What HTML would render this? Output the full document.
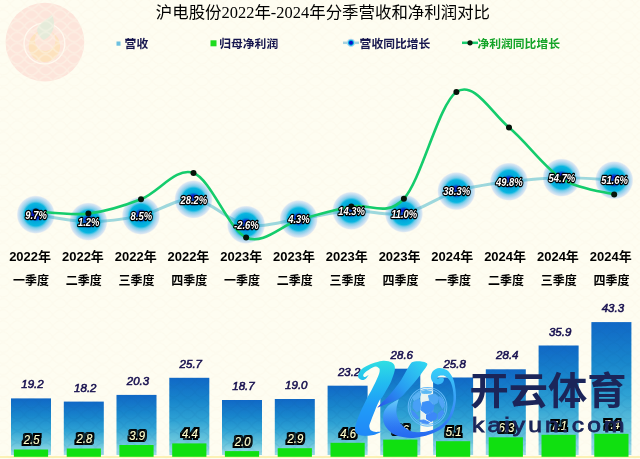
<!DOCTYPE html>
<html lang="zh"><head><meta charset="utf-8"><title>沪电股份2022年-2024年分季营收和净利润对比</title>
<style>
html,body{margin:0;padding:0;background:#fefdf1;}
body{width:640px;height:459px;overflow:hidden;}
svg{display:block}
.t{font-family:"Liberation Serif","Noto Sans CJK SC",serif;font-weight:400;font-size:16.45px;fill:#000}
.lg{font-family:"Liberation Sans","Noto Sans CJK SC",sans-serif;font-weight:700;font-size:11.8px}
.yr{font-family:"Liberation Sans","Noto Sans CJK SC",sans-serif;font-weight:700;font-size:13px;fill:#000;text-anchor:middle}
.q{font-family:"Liberation Sans","Noto Sans CJK SC",sans-serif;font-weight:700;font-size:12px;fill:#000;text-anchor:middle}
.pl{font-family:"Liberation Sans",sans-serif;font-weight:700;font-style:italic;font-size:11.5px;fill:#fff;stroke:#000;stroke-width:2.6px;paint-order:stroke;stroke-linejoin:round;text-anchor:middle}
.bl{font-family:"Liberation Sans",sans-serif;font-style:italic;font-size:11.5px;fill:#17104f;stroke:#17104f;stroke-width:0.55px;text-anchor:middle}
.gl{font-family:"Liberation Sans",sans-serif;font-weight:400;font-style:italic;font-size:12px;fill:#ffffcc;stroke:#ffffcc;stroke-width:0.15px;text-anchor:middle;filter:url(#ol)}
.wm{font-family:"Liberation Sans","Noto Sans CJK SC",sans-serif;font-weight:700;font-size:38px;fill:#1b2559}
.wm2{font-family:"Liberation Sans",sans-serif;font-weight:400;font-size:20.5px;fill:#1b2559;stroke:#1b2559;stroke-width:0.8px;letter-spacing:2.6px}
</style></head><body>
<svg width="640" height="459" viewBox="0 0 640 459">
<defs>
<pattern id="wv" width="14.2" height="11.1" patternUnits="userSpaceOnUse" patternTransform="translate(10.2,-1.8)">
<path d="M0,5.5 Q7.1,-3.9 14.2,5.5 M0,5.5 Q7.1,14.9 14.2,5.5" fill="none" stroke="#fbf7ea" stroke-width="1.4" opacity="0.5"/>
</pattern>
<pattern id="wvb" width="14.2" height="11.1" patternUnits="userSpaceOnUse" patternTransform="translate(10.2,-1.8)">
<path d="M0,5.5 Q7.1,-3.9 14.2,5.5 M0,5.5 Q7.1,14.9 14.2,5.5" fill="none" stroke="#0a5aa0" stroke-width="1.4" opacity="0.09"/>
</pattern>
<radialGradient id="mk">
<stop offset="0" stop-color="#0a0cc0"/>
<stop offset="0.2" stop-color="#0a18c8"/>
<stop offset="0.36" stop-color="#00a6da"/>
<stop offset="0.58" stop-color="#08b6e0"/>
<stop offset="0.69" stop-color="#7ccdea"/>
<stop offset="0.82" stop-color="#b4d9f0"/>
<stop offset="0.93" stop-color="#cfe0f2" stop-opacity="0.8"/>
<stop offset="1" stop-color="#e0e8f6" stop-opacity="0"/>
</radialGradient>
<linearGradient id="bg" x1="0" y1="0" x2="0" y2="1" gradientUnits="objectBoundingBox">
<stop offset="0" stop-color="#1068c6"/>
<stop offset="0.3" stop-color="#1886cc"/>
<stop offset="0.55" stop-color="#2ea2d4"/>
<stop offset="0.8" stop-color="#66c4dc"/>
<stop offset="1" stop-color="#a4deea"/>
</linearGradient>
<linearGradient id="kg1" gradientUnits="userSpaceOnUse" x1="0" y1="360" x2="0" y2="436">
<stop offset="0" stop-color="#30e0e2"/><stop offset="0.3" stop-color="#22bcf0"/><stop offset="0.6" stop-color="#209cf8"/><stop offset="1" stop-color="#2088f8"/>
</linearGradient>
<linearGradient id="kg2" gradientUnits="userSpaceOnUse" x1="424" y1="363" x2="380" y2="407">
<stop offset="0" stop-color="#30d4f0"/><stop offset="0.5" stop-color="#28a0f2"/><stop offset="1" stop-color="#2a58e8"/>
</linearGradient>
<linearGradient id="kg3" gradientUnits="userSpaceOnUse" x1="0" y1="368" x2="0" y2="438">
<stop offset="0" stop-color="#38d0f8"/><stop offset="0.35" stop-color="#38a8f8"/><stop offset="0.6" stop-color="#3c90f8"/><stop offset="1" stop-color="#2468f0"/>
</linearGradient>
<linearGradient id="kg4" gradientUnits="userSpaceOnUse" x1="0" y1="398" x2="0" y2="428">
<stop offset="0" stop-color="#70d4f8" stop-opacity="1"/><stop offset="0.45" stop-color="#48a8f8" stop-opacity="0.8"/><stop offset="1" stop-color="#3080f4" stop-opacity="0"/>
</linearGradient>
<linearGradient id="kg" x1="0" y1="0" x2="1" y2="1">
<stop offset="0" stop-color="#35d0f2"/>
<stop offset="0.5" stop-color="#2a9cf0"/>
<stop offset="1" stop-color="#2a62e6"/>
</linearGradient>
<filter id="ol" x="-20%" y="-30%" width="140%" height="160%" color-interpolation-filters="sRGB"><feMorphology in="SourceAlpha" operator="dilate" radius="1.6" result="d"/><feFlood flood-color="#000"/><feComposite in2="d" operator="in" result="o"/><feMerge><feMergeNode in="o"/><feMergeNode in="SourceGraphic"/></feMerge></filter>
</defs>
<rect width="640" height="459" fill="#fefdf1"/>
<g>
<circle cx="44.9" cy="42.1" r="39.4" fill="#fde5db"/>
<circle cx="44.4" cy="46.3" r="15.7" fill="#fde2be"/>
<circle cx="45.2" cy="40.6" r="10.4" fill="#fde4d8"/>
<circle cx="44.4" cy="43.5" r="20.4" fill="none" stroke="#fffaf0" stroke-width="1.3"/>
<path d="M43.5,40 C38,36 35.5,30 38.5,26 C42,21.5 48,19 51.9,14.8 C54.5,20 55,27 52,32 C50,36 47,38.5 43.5,40 Z" fill="#e5ebda"/>
</g>
<rect width="640" height="459" fill="url(#wv)"/>
<text class="t" x="155.8" y="17.6">沪电股份2022年-2024年分季营收和净利润对比</text>
<rect x="116.5" y="41.5" width="4" height="4.2" fill="#6cc0e0"/><text class="lg" x="124.6" y="47.5" fill="#16164e">营收</text>
<rect x="210.5" y="40.3" width="6" height="6" fill="#1fdc1f"/><text class="lg" x="219.2" y="47.5" fill="#16164e">归母净利润</text>
<line x1="343" y1="42.8" x2="359" y2="42.8" stroke="#a5d3df" stroke-width="2.5"/><circle cx="351" cy="42.8" r="4.5" fill="url(#mk)"/><circle cx="351" cy="42.8" r="2" fill="#0a14c8"/><text class="lg" x="359.6" y="47.5" fill="#16164e">营收同比增长</text>
<line x1="462" y1="42.8" x2="478" y2="42.8" stroke="#18cc6e" stroke-width="2.5"/><circle cx="470" cy="42.8" r="2.6" fill="#0a1a0a"/><text class="lg" x="477.4" y="47.5" fill="#14a428">净利润同比增长</text>
<circle cx="35.8" cy="214.6" r="19.3" fill="url(#mk)"/><circle cx="88.4" cy="221.6" r="19.3" fill="url(#mk)"/><circle cx="141.0" cy="215.6" r="19.3" fill="url(#mk)"/><circle cx="193.5" cy="199.4" r="19.3" fill="url(#mk)"/><circle cx="246.1" cy="224.7" r="19.3" fill="url(#mk)"/><circle cx="298.7" cy="219.1" r="19.3" fill="url(#mk)"/><circle cx="351.3" cy="210.8" r="19.3" fill="url(#mk)"/><circle cx="403.9" cy="213.6" r="19.3" fill="url(#mk)"/><circle cx="456.4" cy="191.1" r="19.3" fill="url(#mk)"/><circle cx="509.0" cy="181.7" r="19.3" fill="url(#mk)"/><circle cx="561.6" cy="177.6" r="19.3" fill="url(#mk)"/><circle cx="614.2" cy="180.2" r="19.3" fill="url(#mk)"/>
<path d="M35.80,214.63 C44.56,215.79 70.85,221.45 88.38,221.61 C105.91,221.78 123.43,219.31 140.96,215.61 C158.49,211.91 176.01,197.90 193.54,199.42 C211.07,200.94 228.59,221.46 246.12,224.74 C263.65,228.01 281.17,221.38 298.70,219.07 C316.23,216.75 333.75,211.76 351.28,210.85 C368.81,209.93 386.33,216.85 403.86,213.56 C421.39,210.27 438.91,196.43 456.44,191.12 C473.97,185.80 491.49,183.91 509.02,181.66 C526.55,179.42 544.07,177.88 561.60,177.64 C579.13,177.39 605.42,179.76 614.18,180.18" fill="none" stroke="#18a4c2" stroke-opacity="0.42" stroke-width="3" stroke-linecap="round"/>
<path d="M35.80,211.50 C44.56,211.85 70.85,215.64 88.38,213.60 C105.91,211.56 123.43,206.02 140.96,199.25 C158.49,192.48 176.01,166.62 193.54,173.00 C211.07,179.38 228.59,229.67 246.12,237.50 C263.65,245.33 281.17,225.17 298.70,220.00 C316.23,214.83 333.75,210.04 351.28,206.50 C368.81,202.96 386.33,217.83 403.86,198.75 C421.39,179.67 438.91,103.88 456.44,92.00 C473.97,80.12 491.49,113.07 509.02,127.50 C526.55,141.93 544.07,167.43 561.60,178.60 C579.13,189.77 605.42,191.85 614.18,194.50" fill="none" stroke="#14cc6c" stroke-width="2.6" stroke-linecap="round"/>
<circle cx="35.8" cy="211.5" r="3" fill="#06140a"/><circle cx="88.4" cy="213.6" r="3" fill="#06140a"/><circle cx="141.0" cy="199.2" r="3" fill="#06140a"/><circle cx="193.5" cy="173.0" r="3" fill="#06140a"/><circle cx="246.1" cy="237.5" r="3" fill="#06140a"/><circle cx="298.7" cy="220.0" r="3" fill="#06140a"/><circle cx="351.3" cy="206.5" r="3" fill="#06140a"/><circle cx="403.9" cy="198.8" r="3" fill="#06140a"/><circle cx="456.4" cy="92.0" r="3" fill="#06140a"/><circle cx="509.0" cy="127.5" r="3" fill="#06140a"/><circle cx="561.6" cy="178.6" r="3" fill="#06140a"/><circle cx="614.2" cy="194.5" r="3" fill="#06140a"/>
<text class="pl" transform="translate(36.1,218.8) scale(0.82,1)">9.7%</text><text class="pl" transform="translate(88.7,225.8) scale(0.82,1)">1.2%</text><text class="pl" transform="translate(141.3,219.8) scale(0.82,1)">8.5%</text><text class="pl" transform="translate(193.8,203.6) scale(0.82,1)">28.2%</text><text class="pl" transform="translate(246.4,228.9) scale(0.82,1)">-2.6%</text><text class="pl" transform="translate(299.0,223.3) scale(0.82,1)">4.3%</text><text class="pl" transform="translate(351.6,215.0) scale(0.82,1)">14.3%</text><text class="pl" transform="translate(404.2,217.8) scale(0.82,1)">11.0%</text><text class="pl" transform="translate(456.7,195.3) scale(0.82,1)">38.3%</text><text class="pl" transform="translate(509.3,185.9) scale(0.82,1)">49.8%</text><text class="pl" transform="translate(561.9,181.8) scale(0.82,1)">54.7%</text><text class="pl" transform="translate(614.5,184.4) scale(0.82,1)">51.6%</text>
<text class="yr" x="30.1" y="261.4">2022年</text><text class="q" x="30.9" y="284.5">一季度</text>
<text class="yr" x="82.9" y="261.4">2022年</text><text class="q" x="83.7" y="284.5">二季度</text>
<text class="yr" x="135.7" y="261.4">2022年</text><text class="q" x="136.5" y="284.5">三季度</text>
<text class="yr" x="188.4" y="261.4">2022年</text><text class="q" x="189.2" y="284.5">四季度</text>
<text class="yr" x="241.2" y="261.4">2023年</text><text class="q" x="242.0" y="284.5">一季度</text>
<text class="yr" x="294.0" y="261.4">2023年</text><text class="q" x="294.8" y="284.5">二季度</text>
<text class="yr" x="346.8" y="261.4">2023年</text><text class="q" x="347.6" y="284.5">三季度</text>
<text class="yr" x="399.6" y="261.4">2023年</text><text class="q" x="400.4" y="284.5">四季度</text>
<text class="yr" x="452.3" y="261.4">2024年</text><text class="q" x="453.1" y="284.5">一季度</text>
<text class="yr" x="505.1" y="261.4">2024年</text><text class="q" x="505.9" y="284.5">二季度</text>
<text class="yr" x="557.9" y="261.4">2024年</text><text class="q" x="558.7" y="284.5">三季度</text>
<text class="yr" x="610.7" y="261.4">2024年</text><text class="q" x="611.5" y="284.5">四季度</text>
<rect x="0" y="456.3" width="640" height="1.4" fill="#f9eb9c"/>
<rect x="11.0" y="398.4" width="40" height="56.6" fill="url(#bg)"/><rect x="11.0" y="398.4" width="40" height="56.6" fill="url(#wvb)"/><rect x="13.9" y="449.5" width="34.2" height="7.3" fill="#10e010"/><text class="bl" x="32.5" y="388.4">19.2</text><text class="gl" transform="translate(31.6,444.2) scale(0.95,1)">2.5</text>
<rect x="63.8" y="401.6" width="40" height="53.4" fill="url(#bg)"/><rect x="63.8" y="401.6" width="40" height="53.4" fill="url(#wvb)"/><rect x="66.7" y="448.5" width="34.2" height="8.3" fill="#10e010"/><text class="bl" x="85.3" y="391.6">18.2</text><text class="gl" transform="translate(84.4,443.2) scale(0.95,1)">2.8</text>
<rect x="116.5" y="394.9" width="40" height="60.1" fill="url(#bg)"/><rect x="116.5" y="394.9" width="40" height="60.1" fill="url(#wvb)"/><rect x="119.4" y="445.0" width="34.2" height="11.8" fill="#10e010"/><text class="bl" x="138.0" y="384.9">20.3</text><text class="gl" transform="translate(137.1,439.7) scale(0.95,1)">3.9</text>
<rect x="169.3" y="377.8" width="40" height="77.2" fill="url(#bg)"/><rect x="169.3" y="377.8" width="40" height="77.2" fill="url(#wvb)"/><rect x="172.2" y="443.4" width="34.2" height="13.4" fill="#10e010"/><text class="bl" x="190.8" y="367.8">25.7</text><text class="gl" transform="translate(189.9,438.1) scale(0.95,1)">4.4</text>
<rect x="222.0" y="400.0" width="40" height="55.0" fill="url(#bg)"/><rect x="222.0" y="400.0" width="40" height="55.0" fill="url(#wvb)"/><rect x="224.9" y="451.1" width="34.2" height="5.7" fill="#10e010"/><text class="bl" x="243.5" y="390.0">18.7</text><text class="gl" transform="translate(242.6,445.8) scale(0.95,1)">2.0</text>
<rect x="274.8" y="399.0" width="40" height="56.0" fill="url(#bg)"/><rect x="274.8" y="399.0" width="40" height="56.0" fill="url(#wvb)"/><rect x="277.7" y="448.2" width="34.2" height="8.6" fill="#10e010"/><text class="bl" x="296.3" y="389.0">19.0</text><text class="gl" transform="translate(295.4,442.9) scale(0.95,1)">2.9</text>
<rect x="327.6" y="385.7" width="40" height="69.3" fill="url(#bg)"/><rect x="327.6" y="385.7" width="40" height="69.3" fill="url(#wvb)"/><rect x="330.5" y="442.8" width="34.2" height="14.0" fill="#10e010"/><text class="bl" x="349.1" y="375.7">23.2</text><text class="gl" transform="translate(348.2,437.5) scale(0.95,1)">4.6</text>
<rect x="380.3" y="368.7" width="40" height="86.3" fill="url(#bg)"/><rect x="380.3" y="368.7" width="40" height="86.3" fill="url(#wvb)"/><rect x="383.2" y="439.6" width="34.2" height="17.2" fill="#10e010"/><text class="bl" x="401.8" y="358.7">28.6</text><text class="gl" transform="translate(400.9,434.3) scale(0.95,1)">5.6</text>
<rect x="433.1" y="377.5" width="40" height="77.5" fill="url(#bg)"/><rect x="433.1" y="377.5" width="40" height="77.5" fill="url(#wvb)"/><rect x="436.0" y="441.2" width="34.2" height="15.6" fill="#10e010"/><text class="bl" x="454.6" y="367.5">25.8</text><text class="gl" transform="translate(453.7,435.9) scale(0.95,1)">5.1</text>
<rect x="485.8" y="369.3" width="40" height="85.7" fill="url(#bg)"/><rect x="485.8" y="369.3" width="40" height="85.7" fill="url(#wvb)"/><rect x="488.7" y="437.3" width="34.2" height="19.5" fill="#10e010"/><text class="bl" x="507.3" y="359.3">28.4</text><text class="gl" transform="translate(506.4,432.0) scale(0.95,1)">6.3</text>
<rect x="538.6" y="345.5" width="40" height="109.5" fill="url(#bg)"/><rect x="538.6" y="345.5" width="40" height="109.5" fill="url(#wvb)"/><rect x="541.5" y="434.8" width="34.2" height="22.0" fill="#10e010"/><text class="bl" x="560.1" y="335.5">35.9</text><text class="gl" transform="translate(559.2,429.5) scale(0.95,1)">7.1</text>
<rect x="591.4" y="322.1" width="40" height="132.9" fill="url(#bg)"/><rect x="591.4" y="322.1" width="40" height="132.9" fill="url(#wvb)"/><rect x="594.3" y="433.8" width="34.2" height="23.0" fill="#10e010"/><text class="bl" x="612.9" y="312.1">43.3</text><text class="gl" transform="translate(612.0,428.5) scale(0.95,1)">7.4</text>
<g id="wm">
<path d="M368.7,374.8C368.3,375.4 367.4,377.3 366.3,378.2C365.2,379.1 363.6,380.2 362.2,380.0C360.8,379.8 358.7,378.6 358.2,377.2C357.7,375.8 358.3,373.6 359.4,371.9C360.5,370.2 362.5,368.4 364.8,367.0C367.1,365.6 370.2,364.2 373.0,363.2C375.8,362.2 379.2,361.2 381.8,360.9C384.4,360.6 386.5,360.8 388.5,361.3C390.5,361.8 392.5,362.8 393.6,364.0C394.7,365.2 394.9,366.9 394.9,368.7C394.9,370.5 394.2,372.5 393.5,374.8C392.8,377.1 391.7,380.1 390.5,382.7C389.3,385.3 387.4,388.2 386.1,390.5C384.8,392.8 383.9,394.8 382.7,396.6C381.5,398.4 380.3,399.0 378.9,401.5C377.5,404.0 375.9,408.3 374.5,411.8C373.1,415.3 371.1,420.2 370.2,422.7C369.3,425.2 369.2,425.7 369.4,427.0C369.6,428.3 370.1,429.8 371.2,430.6C372.3,431.4 374.3,431.8 376.1,431.9C377.9,432.0 381.1,431.3 382.1,431.2C381.5,431.5 380.0,432.5 378.3,433.2C376.6,433.9 374.4,434.9 371.8,435.3C369.2,435.7 365.5,436.1 363.0,435.8C360.5,435.5 358.1,434.7 356.7,433.6C355.3,432.5 355.0,431.0 354.9,429.2C354.8,427.4 355.4,425.6 356.3,422.7C357.2,419.8 358.8,415.7 360.5,411.8C362.2,407.9 364.7,402.8 366.5,399.2C368.3,395.6 369.8,393.4 371.3,390.5C372.8,387.6 374.4,384.7 375.7,381.8C377.0,378.9 378.6,375.2 379.3,373.0C380.0,370.8 379.6,369.4 379.6,368.7C379.0,368.4 377.4,366.5 375.7,366.6C374.0,366.7 371.5,368.2 369.6,369.3C367.8,370.4 365.7,371.9 364.6,373.0C363.5,374.1 363.1,375.0 363.2,375.7C363.3,376.4 364.3,377.1 365.2,377.0C366.1,376.9 368.1,375.2 368.7,374.8Z" fill="url(#kg1)"/>
<path d="M411.0,363.2C412.3,361.8 413.0,361.9 414.5,361.6C416.0,361.3 418.2,361.2 420.0,361.3C421.8,361.4 424.3,361.9 425.5,362.5C426.7,363.1 427.7,363.3 427.3,364.8C426.9,366.3 424.8,368.8 423.0,371.3C421.2,373.8 418.9,376.9 416.4,380.0C413.8,383.1 410.6,386.8 407.7,389.9C404.8,393.0 402.3,396.4 399.0,398.6C395.7,400.9 391.3,401.9 387.7,403.4C384.1,404.9 379.0,406.9 377.3,407.6C378.0,406.8 379.7,404.9 381.5,403.0C383.3,401.1 385.8,398.8 388.0,396.4C390.2,394.0 392.4,391.5 394.6,388.8C396.8,386.1 399.1,383.1 401.1,380.0C403.1,376.9 405.0,373.1 406.6,370.3C408.2,367.5 409.7,364.6 411.0,363.2Z" fill="url(#kg2)"/>
<clipPath id="swc"><path d="M398.6,399.3C396.8,400.5 390.2,403.9 387.7,406.3C385.2,408.8 384.1,411.3 383.5,414.0C382.9,416.7 383.2,420.2 383.9,422.7C384.6,425.2 386.0,427.2 387.7,429.2C389.4,431.2 391.5,433.1 394.2,434.5C396.9,435.9 400.5,436.8 404.0,437.3C407.5,437.9 410.8,438.2 415.0,437.8C419.2,437.4 424.7,436.3 429.4,434.6C434.1,432.9 439.3,430.6 443.1,427.5C446.9,424.4 449.9,420.1 452.0,415.8C454.1,411.6 455.1,405.6 455.7,402.0C456.3,398.4 456.0,396.4 455.9,394.0C455.8,391.6 455.7,390.2 455.3,387.9C454.9,385.6 454.4,382.3 453.6,380.0C452.8,377.7 451.7,375.7 450.5,374.0C449.3,372.3 448.1,370.8 446.2,369.8C444.3,368.8 441.4,367.8 439.2,368.0C437.0,368.2 434.4,369.6 433.0,371.0C431.6,372.4 431.0,374.9 430.9,376.6C430.8,378.3 431.3,380.1 432.4,381.4C433.5,382.7 435.8,384.1 437.4,384.4C439.0,384.7 441.1,383.9 442.2,383.1C443.3,382.3 444.0,380.6 444.0,379.6C444.0,378.7 443.3,377.5 442.2,377.4C441.1,377.2 438.2,378.5 437.4,378.7C437.5,378.4 437.3,377.3 437.8,376.8C438.3,376.3 439.5,375.8 440.5,375.6C441.5,375.4 442.5,375.3 443.6,375.6C444.7,375.9 445.9,376.4 447.0,377.4C448.1,378.4 449.6,379.9 450.5,381.8C451.4,383.7 452.2,386.3 452.7,388.8C453.2,391.3 453.5,393.9 453.5,396.6C453.5,399.3 453.6,401.5 452.7,405.0C451.8,408.5 450.2,414.1 448.0,417.7C445.8,421.3 442.6,424.1 439.2,426.4C435.8,428.7 431.5,430.4 427.5,431.3C423.5,432.2 418.4,432.4 415.0,432.0C411.6,431.6 409.7,430.6 407.3,429.2C404.9,427.8 402.5,426.0 400.8,423.8C399.1,421.6 397.7,418.7 397.0,416.1C396.3,413.6 396.1,411.3 396.4,408.5C396.7,405.7 398.2,400.8 398.6,399.3Z"/></clipPath>
<path d="M398.6,399.3C396.8,400.5 390.2,403.9 387.7,406.3C385.2,408.8 384.1,411.3 383.5,414.0C382.9,416.7 383.2,420.2 383.9,422.7C384.6,425.2 386.0,427.2 387.7,429.2C389.4,431.2 391.5,433.1 394.2,434.5C396.9,435.9 400.5,436.8 404.0,437.3C407.5,437.9 410.8,438.2 415.0,437.8C419.2,437.4 424.7,436.3 429.4,434.6C434.1,432.9 439.3,430.6 443.1,427.5C446.9,424.4 449.9,420.1 452.0,415.8C454.1,411.6 455.1,405.6 455.7,402.0C456.3,398.4 456.0,396.4 455.9,394.0C455.8,391.6 455.7,390.2 455.3,387.9C454.9,385.6 454.4,382.3 453.6,380.0C452.8,377.7 451.7,375.7 450.5,374.0C449.3,372.3 448.1,370.8 446.2,369.8C444.3,368.8 441.4,367.8 439.2,368.0C437.0,368.2 434.4,369.6 433.0,371.0C431.6,372.4 431.0,374.9 430.9,376.6C430.8,378.3 431.3,380.1 432.4,381.4C433.5,382.7 435.8,384.1 437.4,384.4C439.0,384.7 441.1,383.9 442.2,383.1C443.3,382.3 444.0,380.6 444.0,379.6C444.0,378.7 443.3,377.5 442.2,377.4C441.1,377.2 438.2,378.5 437.4,378.7C437.5,378.4 437.3,377.3 437.8,376.8C438.3,376.3 439.5,375.8 440.5,375.6C441.5,375.4 442.5,375.3 443.6,375.6C444.7,375.9 445.9,376.4 447.0,377.4C448.1,378.4 449.6,379.9 450.5,381.8C451.4,383.7 452.2,386.3 452.7,388.8C453.2,391.3 453.5,393.9 453.5,396.6C453.5,399.3 453.6,401.5 452.7,405.0C451.8,408.5 450.2,414.1 448.0,417.7C445.8,421.3 442.6,424.1 439.2,426.4C435.8,428.7 431.5,430.4 427.5,431.3C423.5,432.2 418.4,432.4 415.0,432.0C411.6,431.6 409.7,430.6 407.3,429.2C404.9,427.8 402.5,426.0 400.8,423.8C399.1,421.6 397.7,418.7 397.0,416.1C396.3,413.6 396.1,411.3 396.4,408.5C396.7,405.7 398.2,400.8 398.6,399.3Z" fill="url(#kg3)"/>
<rect x="380" y="397" width="30" height="32" fill="url(#kg4)" clip-path="url(#swc)"/>
<circle cx="427.5" cy="406.8" r="19.3" fill="none" stroke="#64b8f8" stroke-width="1.1" opacity="0.95"/>
<circle cx="427.5" cy="406.8" r="17.6" fill="#8ccff4" fill-opacity="0.18" stroke="#64b8f8" stroke-width="1" stroke-opacity="0.95"/>
<path d="M422.5,402.5 L429.6,401.0 L434.1,405.5 L432.6,411.6 L426.5,414.1 L421.0,410.0 Z" fill="#3c90f8" stroke="#3c90f8" stroke-width="1" stroke-linejoin="round"/>
<path d="M428.5,395.5 L435.1,394.0 L438.6,397.0 L437.6,402.5 L434.1,404.5 L429.6,400.5 Z" fill="#50a8f4" stroke="#50a8f4" stroke-width="1" stroke-linejoin="round"/>
<path d="M413.5,402.0 L419.0,399.0 L420.5,404.0 L420.0,410.0 L416.5,412.0 L413.0,407.5 Z" fill="#48a0f6" stroke="#48a0f6" stroke-width="1" stroke-linejoin="round"/>
<path d="M412.5,397.0 L419.0,392.5 L421.0,393.5 L419.0,398.0 L414.0,400.5 Z" fill="#5ab2f4" stroke="#5ab2f4" stroke-width="1" stroke-linejoin="round"/>
<path d="M421.5,391.5 L426.0,390.5 L431.6,391.5 L431.0,393.0 L425.5,393.5 L422.0,393.0 Z" fill="#5ab8f4" stroke="#5ab8f4" stroke-width="1" stroke-linejoin="round"/>
<path d="M439.6,396.5 L442.6,399.0 L444.1,405.0 L442.6,408.5 L440.1,404.0 L439.0,399.0 Z" fill="#50a4f6" stroke="#50a4f6" stroke-width="1" stroke-linejoin="round"/>
<path d="M426.5,415.0 L433.0,412.0 L437.0,414.5 L436.0,419.0 L431.0,421.5 L426.5,419.0 Z" fill="#3c88f8" stroke="#3c88f8" stroke-width="1" stroke-linejoin="round"/>
<path d="M438.6,413.0 L442.6,410.0 L443.6,413.0 L440.6,418.0 L438.0,419.0 Z" fill="#4490f8" stroke="#4490f8" stroke-width="1" stroke-linejoin="round"/>
<path d="M411.5,410.5 L415.0,413.0 L419.0,418.0 L417.0,419.0 L413.0,415.5 Z" fill="#4490f8" stroke="#4490f8" stroke-width="1" stroke-linejoin="round"/>
<path d="M419.0,420.5 L424.0,420.0 L429.5,422.5 L428.0,423.5 L423.0,423.0 Z" fill="#4890f8" stroke="#4890f8" stroke-width="1" stroke-linejoin="round"/>
<text class="wm" x="469.5" y="403.5" textLength="157" lengthAdjust="spacingAndGlyphs">开云体育</text>
<text class="wm2" transform="translate(472,432.3) scale(1.2,1)">kaiyun.com</text>
</g>
</svg></body></html>
